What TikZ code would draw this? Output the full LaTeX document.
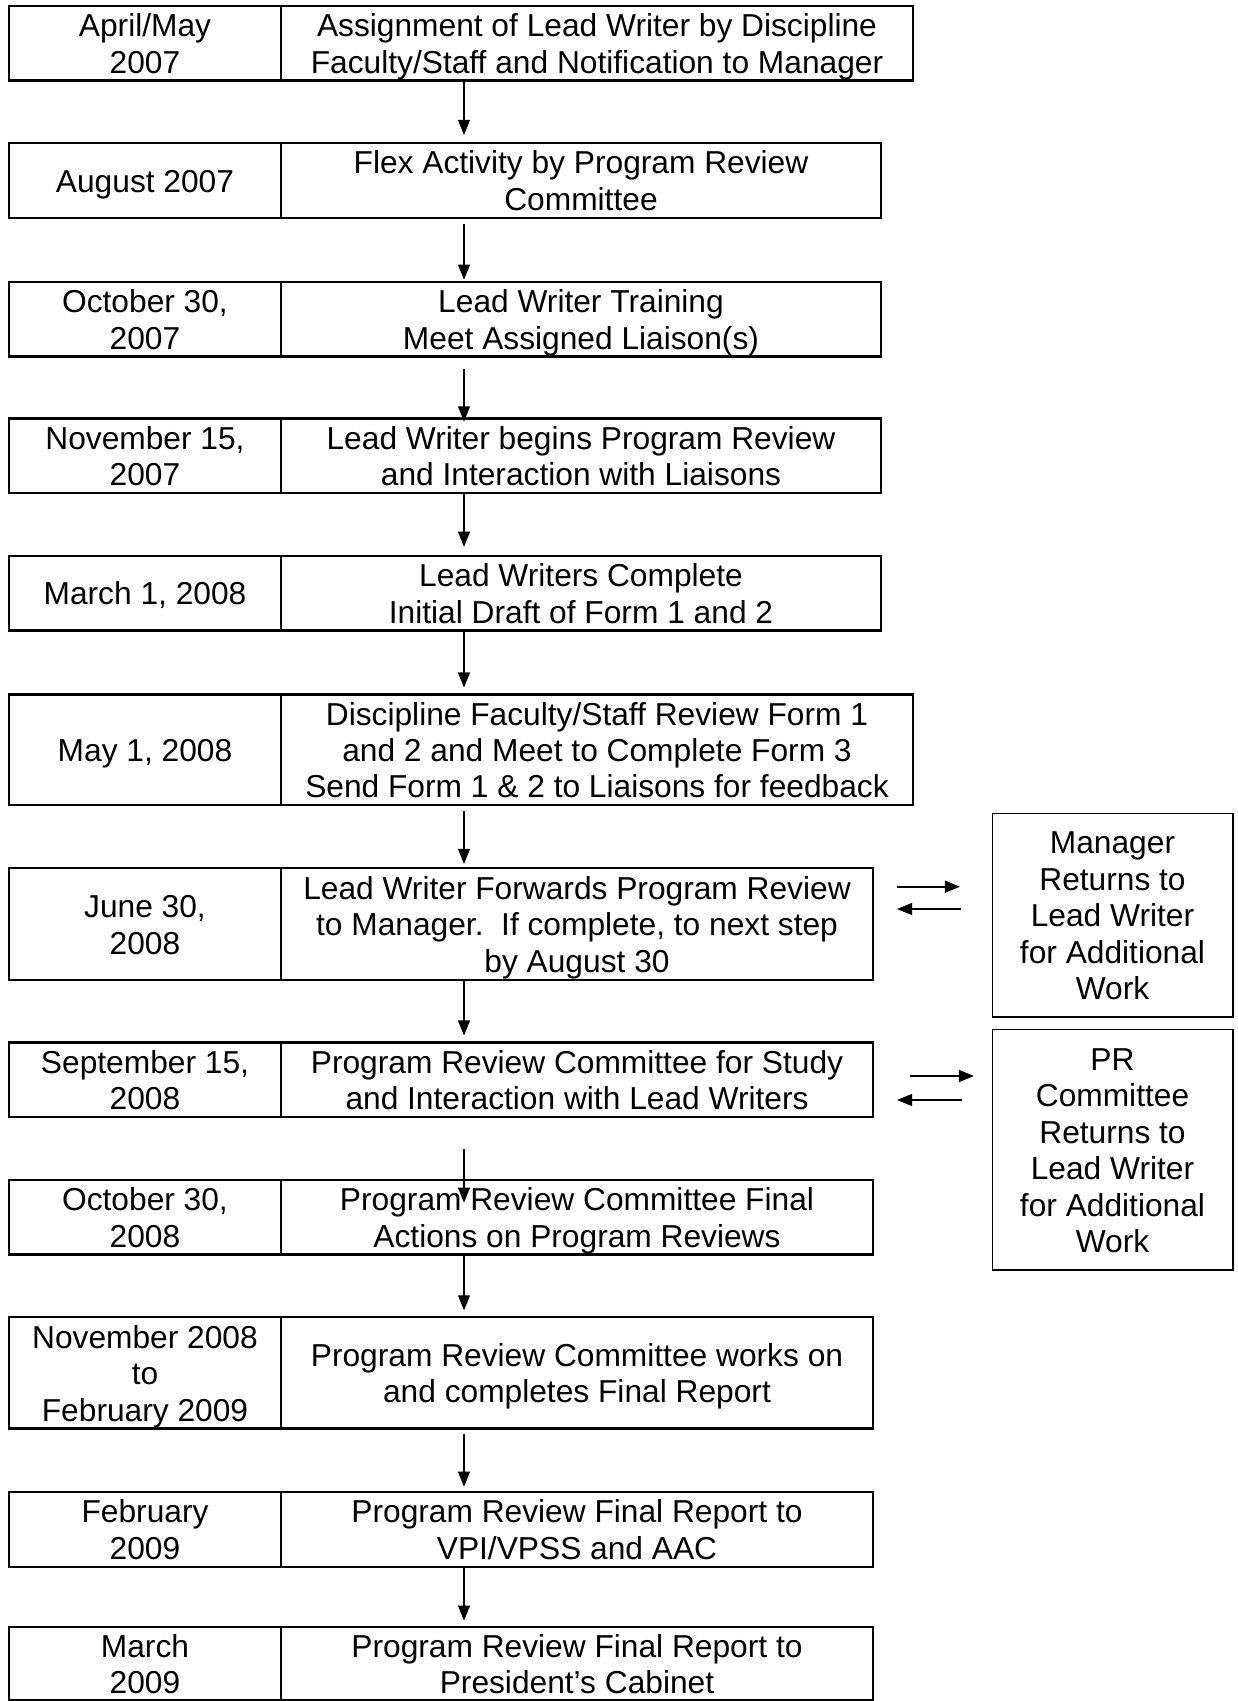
\documentclass[tikz,border=0pt]{standalone}
\usepackage{fontspec}
\setmainfont{Liberation Sans}
\usetikzlibrary{arrows.meta,calc}
\newcommand\tstr{\rule{0pt}{11.5pt}}
\newcommand\bstr{\rule[-2.6pt]{0pt}{2.6pt}}
\newcommand\flowrow[6]{%
  \node[box, minimum width=272*0.3784pt, minimum height={(#3-#2)*0.3784pt}] (#1d) at (145,{(#2+#3)/2}) {\tstr #5\bstr};
  \node[box, minimum width={(#4-281)*0.3784pt}, minimum height={(#3-#2)*0.3784pt}] (#1t) at ({(281+#4)/2},{(#2+#3)/2}) {\tstr #6\bstr};
}
\newcommand\varr[4]{%
  \draw[arr] ($(#1t.south -| ax)+(0,#3)$) -- ($(#2t.north -| ax)+(0,#4)$);
}
\begin{document}
\begin{tikzpicture}[x=0.3784pt, y=-0.3784pt,
  box/.style={draw, line width=0.8pt, inner sep=0pt, outer sep=0pt, align=center,
    font=\fontsize{12}{13.8}\selectfont},
  rbox/.style={box, line width=0.6pt},
  arr/.style={line width=0.5pt, -{Triangle[length=5.7pt,width=4.5pt]}},
  harr/.style={line width=0.6pt, -{Triangle[length=5.7pt,width=4.5pt]}}]
\useasboundingbox (0,0) rectangle (1237,1701);
\coordinate (ax) at (464,0);

\flowrow{r1}{6}{80.5}{913}{April/May\\2007}{Assignment of Lead Writer by Discipline\\Faculty/Staff and Notification to Manager}
\flowrow{r2}{143}{217.7}{881}{August 2007}{Flex Activity by Program Review\\Committee}
\flowrow{r3}{281.7}{356.5}{881}{October 30,\\2007}{Lead Writer Training\\Meet Assigned Liaison(s)}
\flowrow{r4}{418.5}{493.3}{881}{November 15,\\2007}{Lead Writer begins Program Review\\and Interaction with Liaisons}
\flowrow{r5}{555.8}{630.5}{881}{March 1, 2008}{Lead Writers Complete\\Initial Draft of Form 1 and 2}
\flowrow{r6}{694.5}{805}{913}{May 1, 2008}{Discipline Faculty/Staff Review Form 1\\and 2 and Meet to Complete Form 3\\Send Form 1 \& 2 to Liaisons for feedback}
\flowrow{r7}{868}{980}{873}{June 30,\\2008}{Lead Writer Forwards Program Review\\to Manager.\ \ If complete, to next step\\by August 30}
\flowrow{r8}{1042.5}{1117}{873}{September 15,\\2008}{Program Review Committee for Study\\and Interaction with Lead Writers}
\flowrow{r9}{1179.7}{1254.5}{873}{October 30,\\2008}{Program Review Committee Final\\Actions on Program Reviews}
\flowrow{r10}{1317.3}{1428.5}{873}{November 2008\\to\\February 2009}{Program Review Committee works on\\and completes Final Report}
\flowrow{r11}{1491.7}{1566.8}{873}{February\\2009}{Program Review Final Report to\\VPI/VPSS and AAC}
\flowrow{r12}{1629}{1698}{873}{March\\2009}{Program Review Final Report to\\President’s Cabinet}

\node[rbox, minimum width=240.4*0.3784pt, minimum height=203.4*0.3784pt] (mgr) at (1112.5,915)
  {\tstr Manager\\Returns to\\Lead Writer\\for Additional\\Work\bstr};
\node[rbox, minimum width=240.4*0.3784pt, minimum height=240.7*0.3784pt] (prc) at (1112.5,1149.7)
  {\tstr PR\\Committee\\Returns to\\Lead Writer\\for Additional\\Work\bstr};

\varr{r1}{r2}{0}{-8}
\varr{r2}{r3}{6}{-2}
\varr{r3}{r4}{12}{3}
\varr{r4}{r5}{1}{-9}
\varr{r5}{r6}{1}{-7}
\varr{r6}{r7}{6}{-4}
\varr{r7}{r8}{0}{-7}
\varr{r8}{r9}{32}{23}
\varr{r9}{r10}{0}{-7}
\varr{r10}{r11}{5}{-5}
\varr{r11}{r12}{0}{-6}

\coordinate (ma1) at (897,886.7);
\coordinate (ma2) at (960,886.7);
\coordinate (mb1) at (961,909);
\coordinate (mb2) at (897,909);
\coordinate (pa1) at (910,1076);
\coordinate (pa2) at (974,1076);
\coordinate (pb1) at (962,1100);
\coordinate (pb2) at (897,1100);
\draw[harr] (ma1) -- (ma2);
\draw[harr] (mb1) -- (mb2);
\draw[harr] (pa1) -- (pa2);
\draw[harr] (pb1) -- (pb2);
\end{tikzpicture}
\end{document}
